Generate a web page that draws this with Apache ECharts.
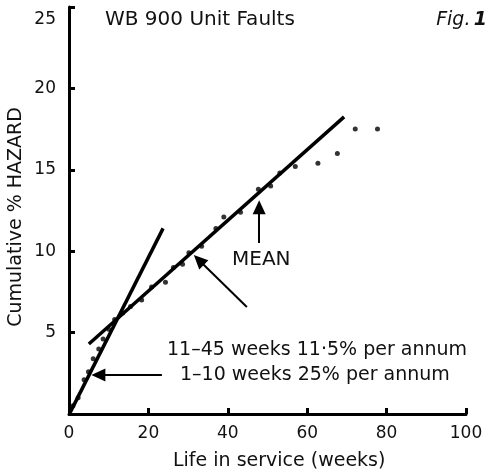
<!DOCTYPE html>
<html>
<head>
<meta charset="utf-8">
<script src="https://cdn.jsdelivr.net/npm/echarts@6/dist/echarts.min.js"></script>
<style>
html,body{margin:0;padding:0;background:#fff;}
#c{width:490px;height:473px;}
</style>
</head>
<body>
<div id="c"></div>
<script>
// ---- data ----
const weeks = [1.0, 2.3, 3.8, 4.9, 6.1, 7.5, 8.6, 10.0, 11.5, 13.5, 15.5, 18.3, 20.8, 24.3, 26.3, 28.6, 30.2, 33.4, 37.0, 39.0, 43.2, 47.7, 50.8, 53.1, 57.0, 62.7, 67.6, 72.1, 77.7];
const hazard = [0.5, 1.0, 2.1, 2.6, 3.4, 4.0, 4.6, 5.2, 5.8, 6.2, 6.6, 7.0, 7.8, 8.1, 9.0, 9.2, 9.9, 10.3, 11.4, 12.1, 12.4, 13.8, 14.0, 14.8, 15.2, 15.4, 16.0, 17.5, 17.5];
const fitEarlyX = [0.3, 23.7];   // 1-10 weeks, 25% per annum
const fitEarlyY = [0.1, 11.4];
const fitMeanX = [5.0, 69.3];    // 11-45 weeks, 11.5% per annum
const fitMeanY = [4.3, 18.25];
const xTicks = [0, 20, 40, 60, 80, 100];
const yTicks = [0, 5, 10, 15, 20, 25];
// arrows: [tailX, tailY, headX, headY]
const arrowMean = [47.9, 10.5, 47.9, 12.7];
const arrowDiag = [44.8, 6.57, 32.7, 9.46];
const arrowEarly = [23.4, 2.4, 7.4, 2.4];

const FONT = '"DejaVu Sans", "Liberation Sans", sans-serif';
const chart = echarts.init(document.getElementById('c'), null, {renderer: 'canvas'});

function arrowLine(a) {
  return [{coord: [a[0], a[1]]}, {coord: [a[2], a[3]]}];
}
const yMax = yTicks[yTicks.length - 1];

const option = {
  backgroundColor: '#fff',
  animation: false,
  grid: {left: 69, right: 24, top: 7, bottom: 59, containLabel: false},
  xAxis: {
    type: 'value', min: xTicks[0], max: xTicks[xTicks.length - 1], interval: xTicks[1] - xTicks[0],
    axisLine: {show: true, lineStyle: {color: '#000', width: 3}},
    axisTick: {show: true, inside: true, length: 6, lineStyle: {color: '#000', width: 3}},
    axisLabel: {fontFamily: FONT, fontSize: 17, color: '#111', margin: 11},
    splitLine: {show: false}
  },
  yAxis: {
    type: 'value', min: yTicks[0], max: yMax, interval: yTicks[1] - yTicks[0],
    axisLine: {show: true, lineStyle: {color: '#000', width: 3}},
    axisTick: {show: true, inside: true, length: 6, lineStyle: {color: '#000', width: 3}},
    axisLabel: {fontFamily: FONT, fontSize: 17, color: '#111', margin: 13, showMinLabel: false,
      formatter: v => (v === 0 ? '' : (v === yMax ? '{top|' + v + '}' : String(v))),
      rich: {top: {fontFamily: FONT, fontSize: 17, color: '#111', padding: [26, 0, 0, 0]}}},
    splitLine: {show: false}
  },
  series: [
    {
      type: 'scatter', name: 'faults',
      data: weeks.map((w, i) => [w, hazard[i]]),
      symbol: 'circle', symbolSize: 5,
      itemStyle: {color: '#000'}
    },
    {
      type: 'line', name: 'early', symbol: 'none',
      data: fitEarlyX.map((x, i) => [x, fitEarlyY[i]]),
      lineStyle: {color: '#000', width: 3.5}
    },
    {
      type: 'line', name: 'mean', symbol: 'none',
      data: fitMeanX.map((x, i) => [x, fitMeanY[i]]),
      lineStyle: {color: '#000', width: 3.5},
      markLine: {
        silent: true,
        symbol: ['none', 'triangle'],
        symbolSize: [13, 14],
        label: {show: false},
        lineStyle: {color: '#000', width: 2, type: 'solid'},
        itemStyle: {color: '#000'},
        data: [arrowLine(arrowMean), arrowLine(arrowDiag), arrowLine(arrowEarly)]
      }
    }
  ],
  graphic: [
    {type: 'text', x: 105, y: 20, style: {text: 'WB 900 Unit Faults', font: '20px ' + FONT, fill: '#111', align: 'left', verticalAlign: 'middle'}},
    {type: 'text', x: 487, y: 20, style: {
      text: '{a|Fig.} {b|1}', align: 'right', verticalAlign: 'middle', fill: '#111',
      rich: {a: {fontFamily: FONT, fontSize: 19, fontStyle: 'italic', color: '#111'},
             b: {fontFamily: FONT, fontSize: 19, fontStyle: 'italic', fontWeight: 'bold', color: '#111'}}
    }},
    {type: 'text', x: 232, y: 260, style: {text: 'MEAN', font: '20px ' + FONT, fill: '#111', align: 'left', verticalAlign: 'middle'}},
    {type: 'text', x: 167, y: 350, style: {text: '11\u201345 weeks 11\u00b75% per annum', font: '19px ' + FONT, fill: '#111', align: 'left', verticalAlign: 'middle'}},
    {type: 'text', x: 180, y: 375, style: {text: '1\u201310 weeks 25% per annum', font: '19px ' + FONT, fill: '#111', align: 'left', verticalAlign: 'middle'}},
    {type: 'text', x: 173, y: 461, style: {text: 'Life in service (weeks)', font: '19px ' + FONT, fill: '#111', align: 'left', verticalAlign: 'middle'}},
    {type: 'text', x: 16, y: 217, rotation: Math.PI / 2, style: {text: 'Cumulative % HAZARD', font: '19px ' + FONT, fill: '#111', align: 'center', verticalAlign: 'middle'}}
  ]
};
chart.setOption(option);
</script>
</body>
</html>
